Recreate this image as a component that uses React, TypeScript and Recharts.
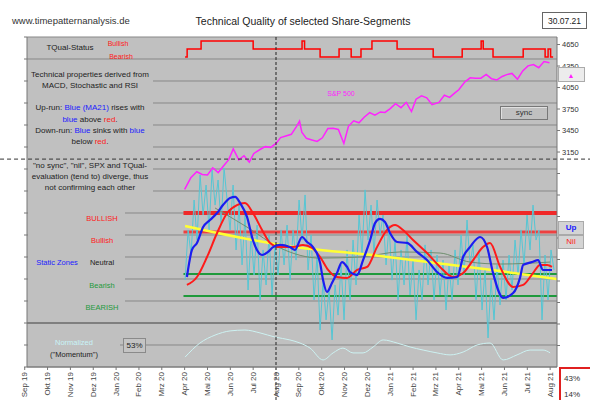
import React from 'react';
import { ComposedChart, Line, XAxis, YAxis, CartesianGrid, ReferenceLine } from 'recharts';

const FONT = '"Liberation Sans", Arial, sans-serif';
const PLOT_GRAY = '#c0c0c0';

const monthLabels = ['Sep 19','Okt 19','Nov 19','Dez 19','Jan 20','Feb 20','Mrz 20','Apr 20','Mai 20','Jun 20','Jul 20','Aug 20','Sep 20','Okt 20','Nov 20','Dez 20','Jan 21','Feb 21','Mrz 21','Apr 21','Mai 21','Jun 21','Jul 21','Aug 21'];
const monthTicks = monthLabels.map((_, i) => i);

const spxTicks = [450, 750, 1050, 1350, 1650, 1950, 2250, 2550, 2850, 3150, 3450, 3750, 4050, 4350, 4650];

// S&P 500 (months since Sep 2019)
const spxMonths = [7.00, 7.27, 7.53, 7.77, 8.00, 8.23, 8.47, 8.70, 8.93, 9.13, 9.37, 9.60, 9.83, 10.03, 10.30, 10.53, 10.77, 11.00, 11.20, 11.43, 11.67, 11.90, 12.03, 12.13, 12.33, 12.57, 12.80, 13.03, 13.27, 13.50, 13.73, 13.97, 14.17, 14.40, 14.63, 14.87, 15.10, 15.33, 15.57, 15.77, 16.00, 16.23, 16.47, 16.70, 16.93, 17.13, 17.37, 17.60, 17.83, 18.13, 18.37, 18.60, 18.83, 19.00, 19.27, 19.50, 19.73, 19.97, 20.20, 20.43, 20.67, 20.90, 21.10, 21.33, 21.57, 21.80, 22.03, 22.27, 22.50, 22.73, 22.97];
const spxValues = [2630, 2790, 2875, 2836, 2830, 2930, 2863, 2955, 3044, 3194, 3041, 3098, 3009, 3130, 3185, 3225, 3215, 3271, 3351, 3373, 3397, 3508, 3580, 3427, 3341, 3319, 3298, 3348, 3477, 3483, 3465, 3270, 3509, 3585, 3558, 3638, 3699, 3663, 3709, 3703, 3756, 3824, 3768, 3841, 3714, 3887, 3934, 3906, 3811, 3842, 3943, 3913, 3975, 4019, 4129, 4185, 4180, 4181, 4232, 4173, 4156, 4204, 4230, 4247, 4166, 4281, 4352, 4370, 4327, 4412, 4395];

// Blue (MA21)
const blueMonths = [7.10, 7.32, 7.54, 7.81, 8.11, 8.42, 8.68, 8.99, 9.21, 9.43, 9.73, 9.99, 10.39, 10.65, 10.87, 11.18, 11.61, 11.83, 12.14, 12.36, 12.62, 12.93, 13.06, 13.23, 13.45, 13.67, 13.89, 14.11, 14.24, 14.55, 14.81, 15.12, 15.34, 15.55, 15.77, 15.99, 16.30, 16.74, 17.17, 17.61, 18.05, 18.49, 18.93, 19.19, 19.49, 19.93, 20.24, 20.50, 20.94, 21.38, 21.68, 21.82, 22.21, 22.47, 22.69, 23.08];
const blueValues = [40.9, 53.2, 56.4, 63.6, 66.8, 70.0, 73.6, 76.8, 77.3, 74.5, 68.2, 57.7, 50.9, 52.3, 54.5, 55.5, 54.5, 53.2, 59.1, 56.8, 54.5, 47.3, 39.5, 34.1, 38.2, 42.7, 47.7, 45.5, 43.2, 41.8, 48.6, 57.7, 65.5, 67.3, 65.9, 60.9, 56.8, 56.4, 52.3, 48.6, 43.2, 40.5, 40.9, 50.0, 54.5, 59.1, 54.5, 42.7, 31.4, 33.6, 40.5, 46.4, 47.7, 48.6, 44.1, 44.1];

// Red (slow)
const redMonths = [7.10, 7.54, 7.98, 8.42, 8.86, 9.29, 9.64, 9.99, 10.39, 10.74, 11.18, 11.75, 12.18, 12.58, 12.93, 13.28, 13.67, 14.11, 14.55, 14.99, 15.42, 15.86, 16.21, 16.56, 17.00, 17.61, 18.18, 18.75, 19.19, 19.63, 20.06, 20.37, 20.81, 21.38, 21.82, 22.25, 22.56, 22.87, 23.08];
const redValues = [37.3, 40.9, 50.0, 60.9, 70.0, 73.6, 74.5, 70.0, 62.3, 56.4, 54.5, 54.5, 55.5, 54.1, 50.0, 44.1, 40.9, 40.5, 44.1, 45.5, 54.5, 62.3, 64.5, 62.3, 57.7, 51.8, 45.5, 40.9, 42.7, 48.6, 54.5, 56.4, 45.5, 36.4, 37.3, 42.7, 46.4, 46.4, 45.5];

// Grey-green slow average
const greyMonths = [8.33, 9.73, 11.18, 12.93, 14.68, 16.43, 18.18, 19.49, 20.81, 23.0];
const greyValues = [72.3, 63.6, 54.1, 49.5, 50.0, 52.3, 51.8, 47.7, 46.8, 47.7];

// Yellow trend
const trendMonths = [7.02, 11.18, 15.55, 20.81, 23.3];
const trendValues = [64.1, 55.5, 50.5, 43.6, 40.0];

// Cyan daily oscillator (sampled every ~4 days)
const cyanStart = 7.02;
const cyanStep = 0.1313;
const cyanValues = [39.5, 62.3, 50.9, 75.9, 57.7, 87.3, 69.1, 82.7, 62.3, 89.5,
  73.6, 85, 64.5, 90.5, 75.9, 62.3, 82.7, 53.2, 73.6, 46.4,
  69.1, 35, 60, 41.8, 64.5, 30.5, 53.2, 37.3, 60, 32.7,
  55.5, 41.8, 62.3, 46.4, 64.5, 39.5, 62.3, 48.6, 75.9, 57.7,
  78.2, 44.1, 60, 30.5, 50.9, 16.8, 39.5, 21.4, 35, 12.3,
  37.3, 23.6, 46.4, 21.4, 53.2, 30.5, 57.7, 37.3, 69.1, 50.9,
  80.5, 57.7, 73.6, 50.9, 75.9, 60, 69.1, 46.4, 64.5, 39.5,
  57.7, 30.5, 53.2, 37.3, 60, 32.7, 48.6, 21.4, 44.1, 30.5,
  55.5, 37.3, 53.2, 30.5, 50.9, 32.7, 48.6, 25.9, 46.4, 30.5,
  53.2, 37.3, 60, 41.8, 66.8, 46.4, 55.5, 30.5, 53.2, 25.9,
  44.1, 13.2, 39.5, 21.4, 46.4, 28.2, 48.6, 30.5, 50.9, 35,
  57.7, 41.8, 62.3, 46.4, 69.1, 53.2, 73.6, 57.7, 62.3, 21.4,
  50.9, 30.5, 53.2, 44.1];

// Momentum (normalized)
const momMonths = [7.02, 7.67, 8.33, 8.99, 9.64, 10.30, 10.96, 11.61, 12.05, 12.49, 13.06, 13.50, 13.93, 14.37, 14.81, 15.25, 15.69, 16.30, 16.87, 17.44, 18.05, 18.62, 19.19, 19.80, 20.37, 20.94, 21.55, 22.12, 22.69, 23.00];
const momValues = [4.5, 10.9, 14.5, 16.4, 16.8, 15.5, 13.6, 12.3, 10.9, 8.6, 3.2, 6.4, 8.6, 6.4, 6.4, 9.1, 12.3, 10.9, 9.1, 7.7, 6.4, 5.5, 6.8, 10.0, 10.9, 3.2, 5.5, 7.7, 7.7, 6.4];

// TQual status: 0 bearish, 1 neutral, 2 bullish
const tqMonths = [7.02, 7.11, 7.72, 10.0, 12.14, 12.25, 12.93, 13.76, 14.29, 14.72, 15.2, 16.3, 17.88, 19.15, 19.98, 20.07, 20.5, 21.82, 22.78, 22.91, 23.02, 23.13];
const tqLevels = [0, 1, 2, 1, 2, 1, 0, 1, 0, 1, 2, 1, 0, 1, 2, 1, 0, 1, 0, 1, 0, 0];

// Static zones
const zoneBULLISH = 70;
const zoneBullish = 61.4;
const zoneBearish = 42.3;
const zoneBEARISH = 32.3;
const syncDivider = 94.5;
const momentumDivider = 20;
const crosshairMonth = 11.0;

const zip = (xs: number[], ys: number[]) => xs.map((m, i) => ({ m, v: ys[i] }));
const spxData = zip(spxMonths, spxValues);
const blueData = zip(blueMonths, blueValues);
const redData = zip(redMonths, redValues);
const greyData = zip(greyMonths, greyValues);
const trendData = zip(trendMonths, trendValues);
const cyanData = cyanValues.map((v, i) => ({ m: cyanStart + i * cyanStep, v }));
const momData = zip(momMonths, momValues);
const tqData = zip(tqMonths, tqLevels);
const oscTicks = Array.from({ length: 16 }, (_, i) => i * 10);

const MonthTick = (props: any) => {
  const { x, y, payload } = props;
  return (
    <text transform={`translate(${x},${y}) rotate(-90)`} textAnchor="end" dominantBaseline="central"
      fontSize={8} fill="#444" fontFamily={FONT}>
      {monthLabels[payload.value]}
    </text>
  );
};

const T = ({ x, y, size = 8, color = '#222', anchor = 'middle', weight, children }: any) => (
  <div style={{
    position: 'absolute', left: x, top: y,
    transform: `translate(${anchor === 'middle' ? '-50%' : anchor === 'end' ? '-100%' : '0'}, -50%)`,
    fontSize: size, color, whiteSpace: 'nowrap', fontFamily: FONT, lineHeight: 1, fontWeight: weight,
  }}>{children}</div>
);

const B = ({ c, children }: any) => <span style={{ color: c }}>{children}</span>;
const BLUE = '#2020ff';
const RED = '#ff1a1a';
const GREEN = '#1f9a3c';

const Box = ({ left, top, width, height, style, children }: any) => (
  <div style={{ position: 'absolute', left, top, width, height, boxSizing: 'border-box', ...style }}>{children}</div>
);

export default function App() {
  return (
    <div style={{ position: 'absolute', left: 0, top: 0, width: 590, height: 400, background: '#fff', overflow: 'hidden', fontFamily: FONT }}>
      <ComposedChart width={590} height={400} margin={{ top: 37, right: 0, bottom: 0, left: 0 }}>
        <CartesianGrid yAxisId="osc" vertical={false} stroke="#878787" fill={PLOT_GRAY} fillOpacity={1} />
        <XAxis dataKey="m" type="number" domain={[0.1, 23.3]} allowDataOverflow ticks={monthTicks} interval={0}
          tick={<MonthTick />} tickSize={3} height={33} stroke="#777" />
        <YAxis yAxisId="osc" orientation="left" width={27} domain={[0, 150]} ticks={oscTicks} allowDataOverflow
          tickFormatter={() => ''} tickSize={3} stroke="#777" />
        <YAxis yAxisId="spx" orientation="right" width={33} domain={[150, 4755]} ticks={spxTicks} allowDataOverflow
          tickFormatter={(v: number) => (v >= 3150 ? String(v) : '')} tickSize={3} stroke="#777"
          tick={{ fontSize: 7.5, fill: '#333', fontFamily: FONT, textAnchor: 'start' }} />
        <YAxis yAxisId="tq" hide domain={[-38.75, 2.5]} allowDataOverflow />

        <ReferenceLine yAxisId="osc" y={momentumDivider} stroke="#5a5a5a" strokeWidth={1} />
        <ReferenceLine yAxisId="osc" segment={[{ x: 6.95, y: zoneBULLISH }, { x: 23.3, y: zoneBULLISH }]} stroke="#f02828" strokeWidth={4} ifOverflow="visible" />
        <ReferenceLine yAxisId="osc" segment={[{ x: 6.95, y: zoneBullish }, { x: 23.3, y: zoneBullish }]} stroke="#ee4040" strokeWidth={3} ifOverflow="visible" />
        <ReferenceLine yAxisId="osc" segment={[{ x: 6.95, y: zoneBearish }, { x: 23.3, y: zoneBearish }]} stroke={GREEN} strokeWidth={2} ifOverflow="visible" />
        <ReferenceLine yAxisId="osc" segment={[{ x: 6.95, y: zoneBEARISH }, { x: 23.3, y: zoneBEARISH }]} stroke={GREEN} strokeWidth={2} ifOverflow="visible" />

        <Line data={cyanData} dataKey="v" yAxisId="osc" type="linear" dot={false} stroke="#55c6d4" strokeWidth={1} isAnimationActive={false} />
        <Line data={momData} dataKey="v" yAxisId="osc" type="monotone" dot={false} stroke="#cdf2f2" strokeWidth={1} isAnimationActive={false} />
        <Line data={greyData} dataKey="v" yAxisId="osc" type="monotone" dot={false} stroke="#6f8f6f" strokeWidth={1} isAnimationActive={false} />
        <Line data={trendData} dataKey="v" yAxisId="osc" type="monotone" dot={false} stroke="#ffff33" strokeWidth={2.5} isAnimationActive={false} />
        <Line data={redData} dataKey="v" yAxisId="osc" type="monotone" dot={false} stroke={RED} strokeWidth={2} isAnimationActive={false} />
        <Line data={blueData} dataKey="v" yAxisId="osc" type="monotone" dot={false} stroke="#1c1cf0" strokeWidth={2.2} isAnimationActive={false} />
        <Line data={spxData} dataKey="v" yAxisId="spx" type="linear" dot={false} stroke="#ff22ff" strokeWidth={1.5} isAnimationActive={false} />
        <Line data={tqData} dataKey="v" yAxisId="tq" type="stepAfter" dot={false} stroke="#ff0000" strokeWidth={1.5} isAnimationActive={false} />

        <ReferenceLine yAxisId="osc" segment={[{ x: crosshairMonth, y: -15 }, { x: crosshairMonth, y: 150 }]} stroke="#222" strokeDasharray="3 2" ifOverflow="visible" />
        <ReferenceLine yAxisId="osc" segment={[{ x: -1.08, y: syncDivider }, { x: 24.8, y: syncDivider }]} stroke="#333" strokeDasharray="4 3" ifOverflow="visible" />
      </ComposedChart>

      {/* cover boxes for annotations */}
      <Box left={28} top={61} width={125} height={96} style={{ background: PLOT_GRAY }} />
      <Box left={28} top={161} width={125} height={35} style={{ background: PLOT_GRAY }} />
      <Box left={28} top={198} width={97} height={120} style={{ background: PLOT_GRAY }} />
      <Box left={28} top={327} width={92} height={39} style={{ background: PLOT_GRAY }} />

      {/* header */}
      <T x={12} y={21} size={9.5} color="#333" anchor="start">www.timepatternanalysis.de</T>
      <T x={303} y={21} size={10.5} color="#222">Technical Quality of selected Share-Segments</T>
      <Box left={542} top={12} width={45} height={17} style={{ background: '#fff', border: '1px solid #666' }} />
      <T x={564.5} y={20.5} size={8.5} color="#222">30.07.21</T>

      {/* TQual labels */}
      <T x={70} y={48} size={8} color="#222">TQual-Status</T>
      <T x={118} y={43} size={7} color={RED}>Bullish</T>
      <T x={121} y={56} size={7} color={RED}>Bearish</T>

      {/* explanation block */}
      <T x={90} y={75}>Technical properties derived from</T>
      <T x={90} y={86}>MACD, Stochastic and RSI</T>
      <T x={90} y={108}>Up-run: <B c={BLUE}>Blue (MA21)</B> rises with</T>
      <T x={90} y={120}><B c={BLUE}>blue</B> above <B c={RED}>red</B>.</T>
      <T x={90} y={131}>Down-run: <B c={BLUE}>Blue</B> sinks with <B c={BLUE}>blue</B></T>
      <T x={90} y={142}>below <B c={RED}>red</B>.</T>
      <T x={90} y={166}>"no sync", "nil", SPX and TQual-</T>
      <T x={90} y={177}>evaluation (tend to) diverge, thus</T>
      <T x={90} y={188}>not confirming each other</T>

      {/* zone labels */}
      <T x={102} y={219} size={7.5} color={RED}>BULLISH</T>
      <T x={102} y={241} size={7.5} color={RED}>Bullish</T>
      <T x={102} y={263} size={7.5} color="#222">Neutral</T>
      <T x={102} y={286} size={7.5} color={GREEN}>Bearish</T>
      <T x={102} y={308} size={7.5} color={GREEN}>BEARISH</T>
      <T x={57} y={263} size={7.5} color={BLUE}>Static Zones</T>

      {/* momentum labels */}
      <T x={74} y={343} size={7.5} color="#c8f4f8">Normalized</T>
      <T x={74} y={355} size={7.5} color="#222">("Momentum")</T>
      <Box left={123} top={338} width={23} height={15} style={{ background: '#c4c4c4', border: '1px solid #8a8a8a' }} />
      <T x={134.5} y={345.5} size={8} color="#222">53%</T>

      {/* S&P label and sync box */}
      <T x={341} y={93} size={7} color="#ff22ff">S&amp;P 500</T>
      <Box left={500} top={106} width={48} height={14} style={{ border: '1px solid #777', boxShadow: 'inset 1px 1px 0 #e0e0e0' }} />
      <T x={524} y={113} size={8} color="#333">sync</T>

      {/* right-side boxes */}
      <Box left={558} top={67} width={27} height={15} style={{ background: '#ececec', border: '1px solid #aaa' }} />
      <T x={571} y={74.5} size={7} color="#ff22ff">▲</T>
      <Box left={558} top={221} width={26} height={14} style={{ background: '#d4d4d4', border: '1px solid #aaa' }} />
      <T x={571} y={228} size={8} color={BLUE} weight={700}>Up</T>
      <Box left={558} top={235} width={26} height={14} style={{ background: '#d4d4d4', border: '1px solid #aaa' }} />
      <T x={571} y={242} size={8} color={RED}>Nil</T>
      <Box left={559} top={367} width={40} height={40} style={{ borderLeft: '2px solid #e02020', borderTop: '2px solid #e02020', background: '#fff' }} />
      <T x={564} y={379} size={8} color="#333" anchor="start">43%</T>
      <T x={564} y={395} size={8} color="#333" anchor="start">14%</T>
    </div>
  );
}
